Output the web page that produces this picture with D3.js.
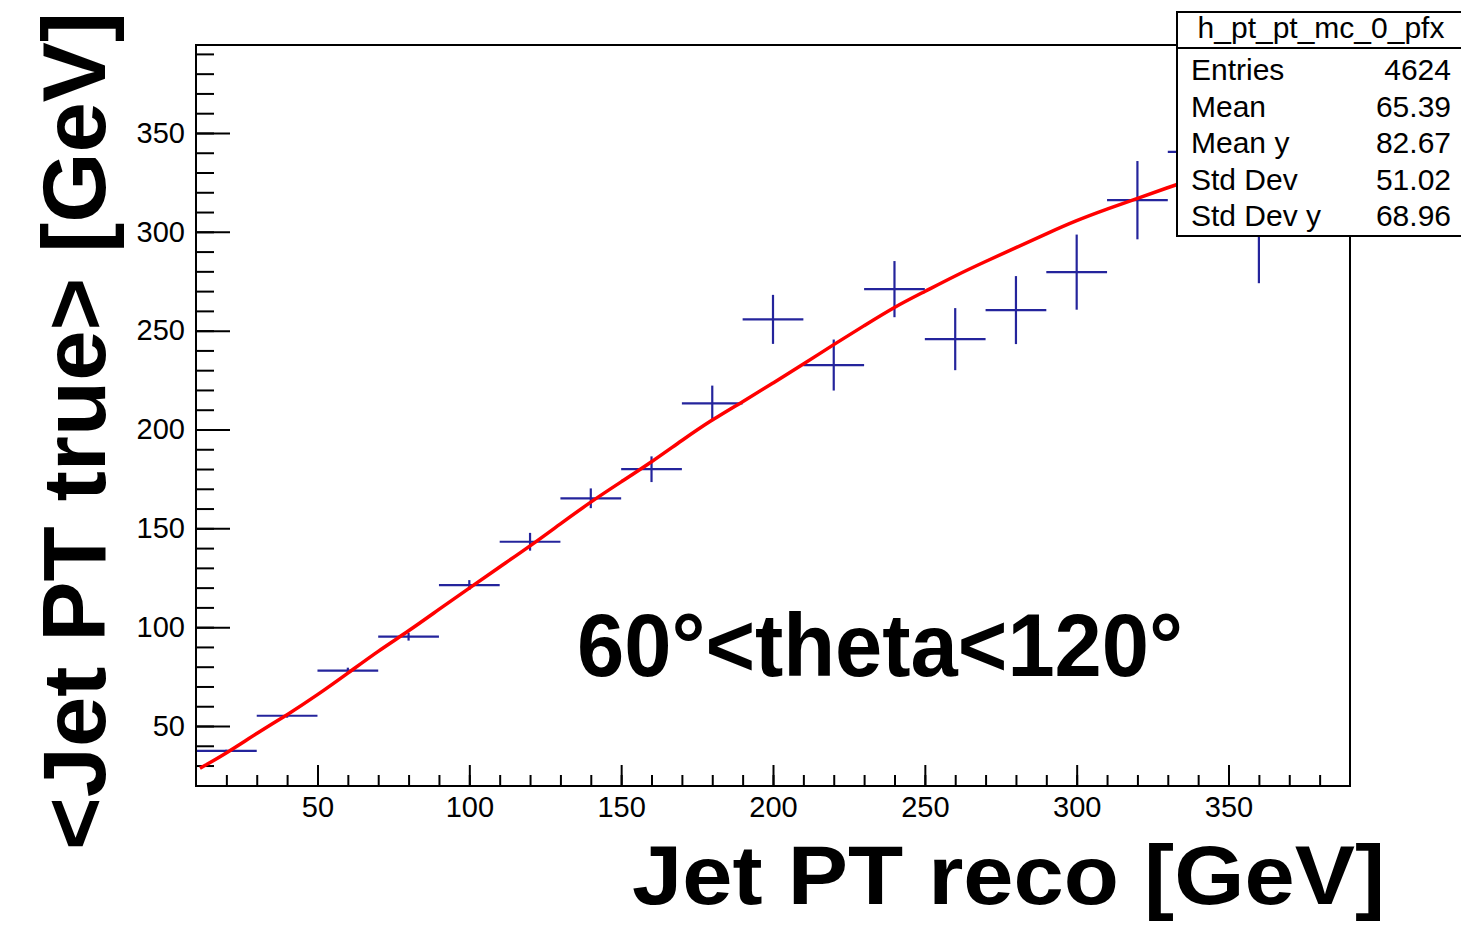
<!DOCTYPE html>
<html>
<head>
<meta charset="utf-8">
<script src="https://cdn.jsdelivr.net/npm/d3@7"></script>
<style>
  body { margin: 0; background: #fff; }
  text { font-family: "Liberation Sans", Arial, Helvetica, sans-serif; }
</style>
</head>
<body>
<script>
var width = 1461,
    height = 925;

// profile bins (centre, mean, error), bin width 20
var binCenters = [20, 40, 60, 80, 100, 120, 140, 160, 180, 200, 220, 240, 260, 280, 300, 320, 340, 360];
var binMeans   = [37.4, 55.2, 78.0, 95.2, 121.3, 143.2, 165.2, 179.9, 213.2, 255.7, 232.6, 271.0, 245.7, 260.4, 279.6, 316.0, 340.4, 305.0];
var binErrors  = [0.6, 1.0, 1.5, 2.0, 2.5, 4.5, 5.0, 6.5, 9.0, 12.4, 12.9, 14.2, 15.7, 17.2, 19.0, 19.8, 21.0, 31.0];
var binWidth = 20;

// red fit curve
var fitX = [11.3, 20, 30, 40, 50, 60, 70, 80, 90, 100, 110, 120, 130, 140, 150, 160, 170, 180, 190, 200,
            210, 220, 230, 240, 250, 260, 270, 280, 290, 300, 310, 320, 333, 345];
var fitY = [28.6, 36.2, 46.3, 55.6, 65.7, 76.7, 88.0, 98.0, 109.0, 119.8, 130.5, 141.0, 152.3, 163.4, 173.5, 183.5, 194.5, 205.0, 214.0, 223.5,
            233.0, 243.0, 252.5, 262.0, 269.8, 277.8, 285.0, 292.0, 299.0, 305.8, 311.5, 316.9, 324.0, 330.0];

var xMajor = [50, 100, 150, 200, 250, 300, 350];
var yMajor = [50, 100, 150, 200, 250, 300, 350];
var xMinor = d3.range(20, 390, 10);
var yMinor = d3.range(30, 391, 10);

var statsTitle = "h_pt_pt_mc_0_pfx";
var statsNames = ["Entries", "Mean", "Mean y", "Std Dev", "Std Dev y"];
var statsValues = ["4624", "65.39", "82.67", "51.02", "68.96"];

var frameL = 196, frameR = 1350, frameT = 45, frameB = 786;

var x = d3.scaleLinear().domain([10, 390]).range([frameL, frameR]);
var y = d3.scaleLinear().domain([19.65, 394.5]).range([frameB, frameT]);

var svg = d3.select("body").append("svg")
    .attr("width", width)
    .attr("height", height);

svg.append("rect").attr("width", width).attr("height", height).attr("fill", "#fff");

// axes, ticks point inward like ROOT
function styleAxis(g) {
  g.select(".domain").remove();
  g.selectAll(".tick line").attr("stroke", "#000").attr("stroke-width", 2);
  g.selectAll("text").attr("fill", "#000").style("font-size", "29px").style("font-family", "'Liberation Sans', Arial, sans-serif");
}

svg.append("g")
    .attr("transform", "translate(0," + frameB + ")")
    .call(d3.axisBottom(x).tickValues(xMinor).tickSize(-11).tickFormat(""))
    .call(styleAxis);
svg.append("g")
    .attr("transform", "translate(0," + frameB + ")")
    .call(d3.axisBottom(x).tickValues(xMajor).tickSize(-21).tickPadding(10).tickFormat(d3.format("d")))
    .call(styleAxis);

svg.append("g")
    .attr("transform", "translate(" + frameL + ",0)")
    .call(d3.axisLeft(y).tickValues(yMinor).tickSize(-18).tickFormat(""))
    .call(styleAxis);
svg.append("g")
    .attr("transform", "translate(" + frameL + ",0)")
    .call(d3.axisLeft(y).tickValues(yMajor).tickSize(-34).tickPadding(11).tickFormat(d3.format("d")))
    .call(styleAxis);

// profile points
var pts = binCenters.map(function(c, i) { return {x: c, y: binMeans[i], e: binErrors[i]}; });
var pg = svg.append("g").attr("stroke", "#24249c").attr("stroke-width", 2.2);
pg.selectAll(".hbar").data(pts).enter().append("line")
    .attr("x1", function(d) { return x(d.x - binWidth / 2); })
    .attr("x2", function(d) { return x(d.x + binWidth / 2); })
    .attr("y1", function(d) { return y(d.y); })
    .attr("y2", function(d) { return y(d.y); });
pg.selectAll(".vbar").data(pts).enter().append("line")
    .attr("x1", function(d) { return x(d.x); })
    .attr("x2", function(d) { return x(d.x); })
    .attr("y1", function(d) { return y(d.y - d.e); })
    .attr("y2", function(d) { return y(d.y + d.e); });

// fit
var fit = fitX.map(function(v, i) { return [v, fitY[i]]; });
svg.append("path")
    .datum(fit)
    .attr("fill", "none")
    .attr("stroke", "#ff0000")
    .attr("stroke-width", 3.5)
    .attr("d", d3.line().x(function(d) { return x(d[0]); }).y(function(d) { return y(d[1]); }).curve(d3.curveBasis));

// frame
svg.append("rect")
    .attr("x", frameL).attr("y", frameT)
    .attr("width", frameR - frameL).attr("height", frameB - frameT)
    .attr("fill", "none").attr("stroke", "#000").attr("stroke-width", 2);

// stats box
var sb = svg.append("g");
sb.append("rect").attr("x", 1177).attr("y", 12).attr("width", 300).attr("height", 224)
    .attr("fill", "#fff").attr("stroke", "#000").attr("stroke-width", 2);
sb.append("line").attr("x1", 1177).attr("x2", 1461).attr("y1", 48).attr("y2", 48)
    .attr("stroke", "#000").attr("stroke-width", 2);
sb.append("text").attr("x", 1321).attr("y", 38).attr("text-anchor", "middle")
    .style("font-size", "30px").text(statsTitle);
statsNames.forEach(function(n, i) {
  var by = 80 + i * 36.5;
  sb.append("text").attr("x", 1191).attr("y", by).style("font-size", "30px").text(n);
  sb.append("text").attr("x", 1451).attr("y", by).attr("text-anchor", "end").style("font-size", "30px").text(statsValues[i]);
});

// titles
svg.append("text")
    .attr("x", 1385).attr("y", 904)
    .attr("text-anchor", "end")
    .attr("textLength", 753).attr("lengthAdjust", "spacingAndGlyphs")
    .style("font-size", "84px").style("font-weight", "bold")
    .text("Jet PT reco [GeV]");

svg.append("text")
    .attr("transform", "translate(105,12) rotate(-90)")
    .attr("text-anchor", "end")
    .attr("textLength", 838).attr("lengthAdjust", "spacingAndGlyphs")
    .style("font-size", "89px").style("font-weight", "bold")
    .text("<Jet PT true> [GeV]");

svg.append("text")
    .attr("x", 577).attr("y", 676)
    .attr("textLength", 606).attr("lengthAdjust", "spacingAndGlyphs")
    .style("font-size", "89px").style("font-weight", "bold")
    .text("60°<theta<120°");
</script>
</body>
</html>
